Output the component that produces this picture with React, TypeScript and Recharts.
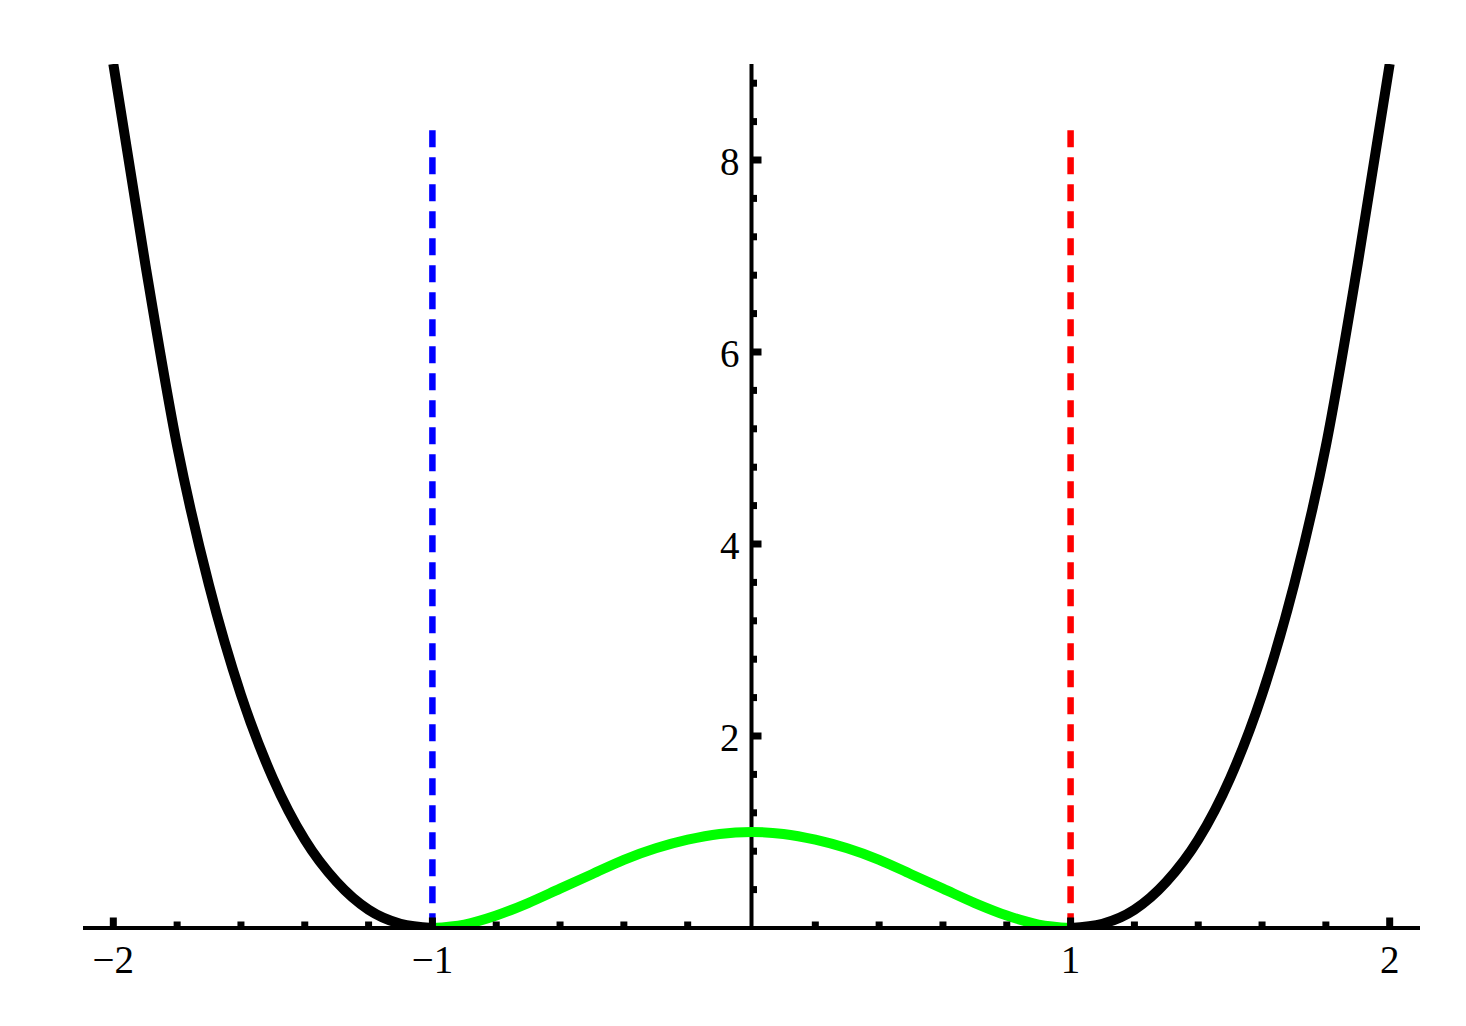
import React from 'react';
import { ComposedChart, Line, Scatter, XAxis, YAxis, ReferenceLine } from 'recharts';

// black branch, left (x from -2 to -1)
const leftX = [-2, -1.9, -1.8, -1.7, -1.6, -1.5, -1.4, -1.3, -1.2, -1.1, -1.0];
const leftY = [9, 6.92, 5.02, 3.57, 2.43, 1.56, 0.92, 0.48, 0.19, 0.044, 0];

// green hump (x from -1 to 1)
const midX = [-1, -0.9, -0.8, -0.7, -0.6, -0.5, -0.4, -0.3, -0.2, -0.1, 0, 0.1, 0.2, 0.3, 0.4, 0.5, 0.6, 0.7, 0.8, 0.9, 1];
const midY = [0, 0.036, 0.13, 0.26, 0.41, 0.56, 0.71, 0.83, 0.92, 0.98, 1, 0.98, 0.92, 0.83, 0.71, 0.56, 0.41, 0.26, 0.13, 0.036, 0];

// black branch, right (x from 1 to 2)
const rightX = [1.0, 1.1, 1.2, 1.3, 1.4, 1.5, 1.6, 1.7, 1.8, 1.9, 2];
const rightY = [0, 0.044, 0.19, 0.48, 0.92, 1.56, 2.43, 3.57, 5.02, 6.92, 9];

// dashed verticals
const blueX = [-1, -1];
const redX = [1, 1];
const dashY = [8.31, 0];

const xMajor = [-2, -1, 1, 2];
const xMinor = [-1.8, -1.6, -1.4, -1.2, -0.8, -0.6, -0.4, -0.2, 0.2, 0.4, 0.6, 0.8, 1.2, 1.4, 1.6, 1.8];
const yMajor = [2, 4, 6, 8];
const yMinor = [0.4, 0.8, 1.2, 1.6, 2.4, 2.8, 3.2, 3.6, 4.4, 4.8, 5.2, 5.6, 6.4, 6.8, 7.2, 7.6, 8.4, 8.8];

const zip = (xs: number[], ys: number[]) => xs.map((x, i) => ({ x, y: ys[i] }));

const leftData = zip(leftX, leftY);
const midData = zip(midX, midY);
const rightData = zip(rightX, rightY);
const blueData = zip(blueX, dashY);
const redData = zip(redX, dashY);
const yTickData = [
  ...yMajor.map((y) => ({ x: 0, y, major: true })),
  ...yMinor.map((y) => ({ x: 0, y, major: false })),
];
const xTicks = [...xMajor, ...xMinor].sort((a, b) => a - b);

const FONT = '"Liberation Serif", "Times New Roman", serif';
const fmt = (v: number) => (v < 0 ? '\u2212' + Math.abs(v) : String(v));

const XTick = (props: any) => {
  const { x, y, payload } = props;
  const major = xMajor.includes(payload.value);
  const h = major ? 10.5 : 6.5;
  return (
    <g>
      <rect x={x - 3.5} y={y - h} width={7} height={h} fill="#000" />
      {major && (
        <text x={x} y={y + 45} textAnchor="middle" fontSize={39} fontFamily={FONT} fill="#000">
          {fmt(payload.value)}
        </text>
      )}
    </g>
  );
};

const YTick = (props: any) => {
  const { cx, cy, payload } = props;
  const w = payload.major ? 10 : 5.5;
  return (
    <g>
      <rect x={cx} y={cy - 3.5} width={w} height={7} fill="#000" />
      {payload.major && (
        <text x={cx - 12} y={cy + 15} textAnchor="end" fontSize={39} fontFamily={FONT} fill="#000">
          {payload.y}
        </text>
      )}
    </g>
  );
};

export default function App() {
  return (
    <div style={{ position: 'absolute', left: 0, top: 0, background: '#fff' }}>
      <ComposedChart
        width={1466}
        height={1026}
        margin={{ top: 64, right: 46, left: 83, bottom: 38 }}
      >
        <XAxis
          type="number"
          dataKey="x"
          domain={[-2.095, 2.095]}
          allowDataOverflow
          ticks={xTicks}
          interval={0}
          tick={<XTick />}
          tickSize={0}
          tickMargin={0}
          tickLine={false}
          axisLine={{ stroke: '#000', strokeWidth: 4 }}
          height={60}
        />
        <YAxis type="number" dataKey="y" domain={[0, 9]} allowDataOverflow hide width={0} />
        <ReferenceLine x={0} stroke="#000" strokeWidth={4} />
        <Line data={leftData} dataKey="y" type="monotone" stroke="#000" strokeWidth={10} dot={false} isAnimationActive={false} />
        <Line data={rightData} dataKey="y" type="monotone" stroke="#000" strokeWidth={10} dot={false} isAnimationActive={false} />
        <Line data={midData} dataKey="y" type="monotone" stroke="#00ff00" strokeWidth={10} dot={false} isAnimationActive={false} />
        <Line data={blueData} dataKey="y" type="linear" stroke="#0000ff" strokeWidth={6.5} strokeDasharray="17 10" dot={false} isAnimationActive={false} />
        <Line data={redData} dataKey="y" type="linear" stroke="#ff0000" strokeWidth={6.5} strokeDasharray="17 10" dot={false} isAnimationActive={false} />
        <Scatter data={yTickData} dataKey="y" shape={<YTick />} isAnimationActive={false} />
      </ComposedChart>
    </div>
  );
}
